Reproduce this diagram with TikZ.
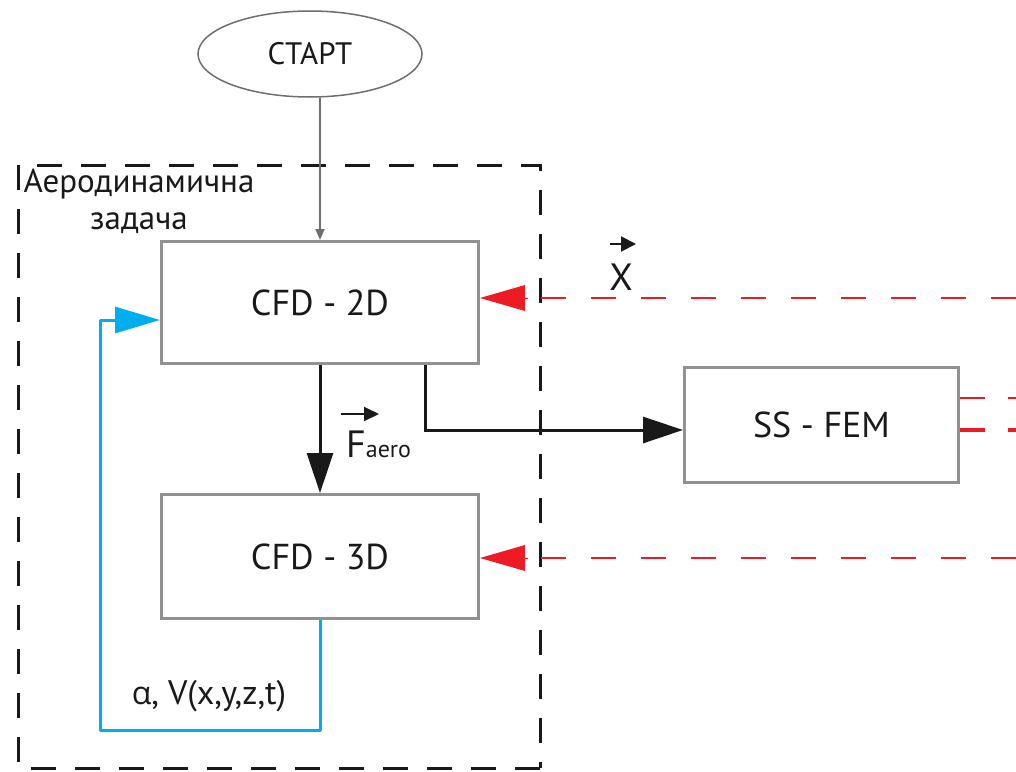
\documentclass[tikz,border=0pt]{standalone}
\usepackage{fontspec}
\setmainfont{PT Sans}
\newfontfamily\greekfont{Open Sans}
\usetikzlibrary{shapes.geometric,arrows.meta,calc}
\definecolor{boxgray}{RGB}{145,145,145}
\definecolor{linegray}{RGB}{110,110,110}
\definecolor{myred}{RGB}{237,28,36}
\definecolor{myblue}{RGB}{0,174,239}
\definecolor{txt}{RGB}{25,25,25}
\tikzset{
  blockbox/.style={draw=boxgray,line width=3pt,fill=white,minimum width=317pt,minimum height=122pt,inner sep=0pt,font=\fontsize{36}{40}\selectfont,text=txt},
  redline/.style={draw=myred,line width=2pt,dash pattern=on 25pt off 25pt},
  redtip/.style={-{Triangle[length=45pt,width=26pt]}},
  blackflow/.style={draw=txt,line width=3pt,-{Triangle[length=40pt,width=26pt]}},
  lbl/.style={inner sep=0pt,text=txt}
}
\begin{document}
\begin{tikzpicture}[x=1pt,y=-1pt]
\useasboundingbox (0,0) rectangle (1016,771);
% frame
\draw[line width=3pt,dash pattern=on 25pt off 19pt,txt] (540,768) -- (18,768) -- (18,165) -- (540,165) -- cycle;
\node[lbl,align=center,font=\fontsize{33}{37}\selectfont] (aerolbl) at (139,201) {Аеродинамична\\задача};
% nodes
\node[ellipse,draw=linegray,line width=1.5pt,fill=white,minimum width=224pt,minimum height=86pt,inner sep=0pt,font=\fontsize{31}{34}\selectfont,text=txt] (start) at (310,54) {СТАРТ};
\node[blockbox] (cfd2) at (320,302.5) {CFD - 2D};
\node[blockbox,minimum height=124pt] (cfd3) at (320,556.5) {CFD - 3D};
\node[blockbox,minimum width=274pt,minimum height=115pt] (fem) at (821.5,425) {SS - FEM};
% start -> cfd2
\draw[linegray,line width=2pt,-{Triangle[length=11pt,width=9pt]}] (start.south -| 320,0) -- (cfd2.north);
% cfd2 -> cfd3
\draw[blackflow] (cfd2.south) -- (cfd3.north);
\node[lbl,anchor=base west,font=\fontsize{38}{40}\selectfont] (faero) at (346,457) {F\fontsize{24}{26}\selectfont aero};
\draw[txt,line width=2pt,-{Triangle[length=15pt,width=14pt]}] ($(faero.base west)+(-5,-43)$) -- ++(38,0);
% cfd2 -> fem
\coordinate (bend) at (425,430);
\draw[blackflow] (cfd2.south -| bend) -- (bend) -- (bend -| fem.west);
% red dashed inputs
\coordinate (r1) at (1016,298);
\coordinate (r2) at (1016,558);
\draw[redline] (r1) -- ($(cfd2.east |- r1)+(45,0)$);
\draw[redline] (r2) -- ($(cfd3.east |- r2)+(45,0)$);
\draw[draw=myred,fill=myred,redtip,line width=0pt] ($(cfd2.east |- r1)+(47,0)$) -- (cfd2.east |- r1);
\draw[draw=myred,fill=myred,redtip,line width=0pt] ($(cfd3.east |- r2)+(47,0)$) -- (cfd3.east |- r2);
\node[lbl,anchor=base,font=\fontsize{38}{40}\selectfont] (xlbl) at (621,290) {X};
\draw[txt,line width=2pt,-{Triangle[length=15pt,width=15pt]}] ($(xlbl.base)+(-11,-46)$) -- ++(26,0);
% fem outputs
\coordinate (o1) at (1016,398);
\coordinate (o2) at (1016,430);
\draw[draw=myred,line width=1.5pt,dash pattern=on 25pt off 23pt] (fem.east |- o1) -- (o1);
\draw[draw=myred,line width=4pt,dash pattern=on 25pt off 23pt] (fem.east |- o2) -- (o2);
% blue feedback
\coordinate (b1) at (320,730);
\coordinate (b2) at (100,730);
\coordinate (b3) at (100,320);
\draw[myblue,line width=3pt,line join=round,-{Triangle[length=45pt,width=26pt]}] (cfd3.south) -- (b1) -- (b2) -- (b3) -- (b3 -| cfd2.west);
\node[lbl,anchor=base,font=\fontsize{34}{36}\selectfont] (alpha) at (209,704) {{\greekfont\fontsize{32}{36}\selectfont α}, V(x,y,z,t)};
\end{tikzpicture}
\end{document}
